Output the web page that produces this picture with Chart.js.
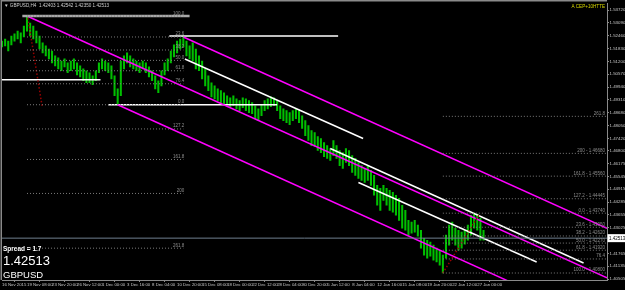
<!DOCTYPE html>
<html><head><meta charset="utf-8">
<script src="https://cdn.jsdelivr.net/npm/chart.js@4/dist/chart.umd.min.js"></script>
<style>html,body{margin:0;padding:0;background:#000;overflow:hidden}</style>
</head><body>
<canvas id="c" width="625" height="290"></canvas>
<script>
// ---- DATA ----
const symbolTitle = 'GBPUSD,H4  1.42403 1.42542 1.42350 1.42513';
const indicatorText = 'A CEP+10HTTE';
const lastPrice = 1.42513;
const spreadText = 'Spread = 1.7';
const symbolName = 'GBPUSD';

// sampled H4 bars (one sample per two H4 bars): lows / highs
const barLows = [1.5191,1.5196,1.5171,1.5201,1.5220,1.5230,1.5211,1.5240,1.5269,1.5245,
1.5230,1.5211,1.5181,1.5162,1.5147,1.5132,1.5113,1.5098,1.5083,1.5074,
1.5093,1.5064,1.5074,1.5083,1.5054,1.5044,1.5025,1.5015,1.5015,1.5005,
1.5025,1.5064,1.5083,1.5074,1.5064,1.5034,1.4951,1.4907,1.4951,1.5083,
1.5113,1.5093,1.5083,1.5074,1.5064,1.5083,1.5064,1.5044,1.5025,1.4985,
1.4966,1.5000,1.5054,1.5074,1.5113,1.5142,1.5162,1.5181,1.5191,1.5147,
1.5132,1.5122,1.5083,1.5074,1.5034,1.5000,1.4976,1.4946,1.4936,1.4927,
1.4917,1.4912,1.4907,1.4897,1.4902,1.4887,1.4878,1.4892,1.4878,1.4868,
1.4863,1.4838,1.4829,1.4853,1.4878,1.4887,1.4897,1.4902,1.4878,1.4838,
1.4829,1.4819,1.4809,1.4829,1.4838,1.4819,1.4790,1.4755,1.4731,1.4706,
1.4702,1.4682,1.4672,1.4652,1.4643,1.4633,1.4657,1.4643,1.4608,1.4594,
1.4623,1.4608,1.4574,1.4560,1.4545,1.4535,1.4525,1.4535,1.4511,1.4462,
1.4413,1.4388,1.4437,1.4413,1.4388,1.4379,1.4364,1.4339,1.4300,1.4290,
1.4266,1.4276,1.4281,1.4261,1.4202,1.4168,1.4153,1.4163,1.4143,1.4134,
1.4119,1.4080,1.4153,1.4217,1.4241,1.4217,1.4192,1.4202,1.4222,1.4241,
1.4266,1.4300,1.4290,1.4241,1.4241];
const barHighs = [1.5220,1.5230,1.5220,1.5245,1.5255,1.5269,1.5260,1.5294,1.5343,1.5308,
1.5294,1.5269,1.5245,1.5211,1.5196,1.5181,1.5171,1.5147,1.5137,1.5122,
1.5132,1.5113,1.5122,1.5132,1.5113,1.5098,1.5083,1.5074,1.5064,1.5049,
1.5074,1.5113,1.5132,1.5122,1.5113,1.5098,1.5049,1.4985,1.5122,1.5147,
1.5162,1.5147,1.5132,1.5122,1.5113,1.5122,1.5113,1.5093,1.5074,1.5049,
1.5025,1.5074,1.5113,1.5132,1.5171,1.5201,1.5220,1.5230,1.5245,1.5220,
1.5196,1.5211,1.5181,1.5147,1.5122,1.5083,1.5049,1.5015,1.5000,1.4985,
1.4976,1.4966,1.4951,1.4941,1.4951,1.4936,1.4927,1.4941,1.4936,1.4927,
1.4917,1.4902,1.4887,1.4907,1.4927,1.4936,1.4946,1.4941,1.4927,1.4902,
1.4887,1.4878,1.4868,1.4878,1.4887,1.4878,1.4853,1.4829,1.4804,1.4780,
1.4770,1.4750,1.4741,1.4721,1.4706,1.4692,1.4731,1.4706,1.4682,1.4672,
1.4692,1.4682,1.4657,1.4643,1.4623,1.4608,1.4594,1.4608,1.4584,1.4560,
1.4511,1.4496,1.4511,1.4496,1.4486,1.4476,1.4462,1.4447,1.4413,1.4388,
1.4339,1.4330,1.4339,1.4315,1.4290,1.4251,1.4241,1.4232,1.4217,1.4202,
1.4192,1.4168,1.4266,1.4315,1.4330,1.4300,1.4290,1.4281,1.4290,1.4315,
1.4364,1.4374,1.4369,1.4349,1.4290];

// time axis (H4 bar index, label)
const timeTickIndex = [0,16,32,48,64,80,96,112,128,144,160,176,192,208,224,240,256,272,288,304];
const timeLabels = ['16 Nov 2015','19 Nov 08:00','23 Nov 20:00','26 Nov 12:00','1 Dec 00:00','3 Dec 16:00',
'8 Dec 04:00','10 Dec 20:00','15 Dec 08:00','18 Dec 00:00','22 Dec 12:00','28 Dec 04:00','30 Dec 20:00',
'5 Jan 12:00','8 Jan 04:00','12 Jan 16:00','15 Jan 08:00','19 Jan 20:00','22 Jan 12:00','27 Jan 00:00'];

// price axis
const priceTicks = [1.53720,1.53090,1.52460,1.51830,1.51200,1.50570,1.49940,1.49310,1.48680,1.48050,1.47420,
1.46800,1.46175,1.45545,1.44915,1.44285,1.43655,1.43025,1.41765,1.41135,1.40505];
const priceTickLabels = ['1.53720','1.53090','1.52460','1.51830','1.51200','1.50570','1.49940','1.49310','1.48680','1.48050','1.47420',
'1.46800','1.46175','1.45545','1.44915','1.44285','1.43655','1.43025','1.41765','1.41135','1.40505'];

// drawn objects: [barIndex, price] endpoints
const chanUpper = [[116,1.5240],[387,1.4300]];
const chanMid   = [[16,1.5343],[387,1.4056]];
const chanLower = [[74,1.4907],[330,1.4019]];
const hLine1 = [[0,1.5030],[63,1.5030]];
const hLine2 = [[68,1.4907],[176,1.4907]];
const hLine3 = [[107,1.5245],[215,1.5245]];
const grayTop = [[13,1.5343],[120,1.5343]];
const trend1 = [[117,1.5132],[231,1.4741]];
const trend2 = [[210,1.4692],[372,1.4129]];
const trend3 = [[228,1.4525],[342,1.4134]];
const fibDiag1 = [[16.6,1.5333],[25.6,1.4902]];
const fibDiag2 = [[282,1.4080],[305,1.4364]];

const fibLeftRange = [16,116];
const fibLeftPrices = [1.5343,1.5240,1.5176,1.5125,1.5074,1.5010,1.4907,1.4788,1.4638,1.4471,1.4202];
const fibLeftLabels = ['100.0','23.6','38.2','50.0','61.8','76.4','0.0','127.2','161.8','200','261.8'];
const fibRightRange = [282,387];
const fibRightPrices = [1.4850,1.4668,1.4556,1.4445,1.4374,1.4305,1.4262,1.4227,1.4192,1.4149,1.4080];
const fibRightLabels = ['261.8','200 - 1.46680','161.8 - 1.45560','127.2 - 1.44445','0.0 - 1.43740','23.6 - 1.43050',
'38.2 - 1.42620','50.0 - 1.42270','61.8 - 1.41920','76.4','100.0 - 1.40800'];

// ---- CHART ----
const FONT = 'Liberation Sans';
function seg(pts, color, width, dash){
  return {type:'line', data: pts.map(p=>({x:p[0], y:p[1]})), borderColor:color, borderWidth:width,
    borderDash:dash||[], pointRadius:0, fill:false, tension:0, order:1};
}
const datasets = [];
datasets.push({type:'bar', data: barHighs.map((h,j)=>({x:j*2, y:[barLows[j], h]})),
  backgroundColor:'#00c000', borderWidth:0, barThickness:1.4, order:10});
fibLeftPrices.forEach(p=>datasets.push(seg([[fibLeftRange[0],p],[fibLeftRange[1],p]],'#7a7a7a',1,[1,2])));
fibRightPrices.forEach(p=>datasets.push(seg([[fibRightRange[0],p],[fibRightRange[1],p]],'#7a7a7a',1,[1,2])));
datasets.push(seg([[0,lastPrice],[387,lastPrice]],'#6f7f8f',1));
datasets.push(seg(grayTop,'#a8a8a8',2.5));
datasets.push(seg(fibDiag1,'#9a0000',1.5,[1.5,2]));
datasets.push(seg(fibDiag2,'#9a0000',1.5,[1.5,2]));
[chanUpper,chanMid,chanLower].forEach(s=>datasets.push(seg(s,'#ff00ff',1.5)));
[hLine1,hLine2,hLine3,trend1,trend2,trend3].forEach(s=>datasets.push(seg(s,'#ffffff',1.5)));

const overlay = {
  id:'overlay',
  beforeDraw(chart){
    const c = chart.ctx; c.save(); c.fillStyle='#000'; c.fillRect(0,0,chart.width,chart.height); c.restore();
  },
  afterDatasetsDraw(chart){
    const c = chart.ctx, xs = chart.scales.x, ys = chart.scales.y, a = chart.chartArea;
    c.save();
    // fib labels
    c.font = '4.5px "'+FONT+'"'; c.fillStyle = '#8c8c8c'; c.textBaseline='bottom'; c.textAlign='right';
    fibLeftPrices.forEach((p,i)=>c.fillText(fibLeftLabels[i], xs.getPixelForValue(fibLeftRange[1])+1, ys.getPixelForValue(p)-0.5));
    fibRightPrices.forEach((p,i)=>c.fillText(fibRightLabels[i], xs.getPixelForValue(fibRightRange[1])-2, ys.getPixelForValue(p)-0.5));
    // frame
    c.strokeStyle='#8a8a8a'; c.lineWidth=1.5;
    c.beginPath(); c.moveTo(a.left-0.5,0.75); c.lineTo(a.right,0.75); c.stroke();
    c.beginPath(); c.moveTo(a.left-0.75,0); c.lineTo(a.left-0.75,a.bottom); c.stroke();
    // header
    c.textAlign='left'; c.textBaseline='middle';
    c.fillStyle='#cfcfcf'; c.font='4.6px "'+FONT+'"';
    c.fillText('\u25BC '+symbolTitle, a.left+2, 6);
    c.fillStyle='#d8d800'; c.textAlign='right';
    c.fillText(indicatorText, a.right-2, 7);
    // bottom-left info
    c.textAlign='left'; c.fillStyle='#ffffff';
    c.font='bold 6.5px "'+FONT+'"'; c.fillText(spreadText, a.left+1, 249.5);
    c.font='13px "'+FONT+'"'; c.fillText(lastPrice.toFixed(5), a.left+1, 261);
    c.font='9.5px "'+FONT+'"'; c.fillText(symbolName, a.left+1, 275.5);
    // last price box
    const yp = ys.getPixelForValue(lastPrice);
    c.fillStyle='#ffffff'; c.fillRect(a.right+0.5, yp-4, chart.width-a.right, 8);
    c.fillStyle='#000'; c.font='4.5px "'+FONT+'"'; c.textAlign='left';
    c.fillText(lastPrice.toFixed(5), a.right+2, yp+0.3);
    c.restore();
  }
};

new Chart(document.getElementById('c'), {
  type:'bar',
  data:{datasets},
  plugins:[overlay],
  options:{
    responsive:false, animation:false, devicePixelRatio:1,
    layout:{padding:{left:2,top:2,right:0,bottom:0}},
    plugins:{legend:{display:false}, tooltip:{enabled:false}},
    scales:{
      x:{type:'linear', position:'bottom', min:0, max:387, offset:false,
        afterBuildTicks:(s)=>{ s.ticks = timeTickIndex.map(v=>({value:v})); },
        afterFit:(s)=>{ s.height = 10; },
        grid:{display:true, drawOnChartArea:false, drawTicks:true, tickLength:2, color:'#8a8a8a'},
        border:{display:true, color:'#8a8a8a', width:1},
        ticks:{autoSkip:false, maxRotation:0, minRotation:0, align:'start', padding:0.5, color:'#c8c8c8',
          font:{family:FONT, size:4.3},
          callback:(v,i)=>timeLabels[i]}
      },
      y:{type:'linear', position:'right', min:1.40456, max:1.54063,
        afterBuildTicks:(s)=>{ s.ticks = priceTicks.map(v=>({value:v})); },
        afterFit:(s)=>{ s.width = 18; },
        grid:{display:true, drawOnChartArea:false, drawTicks:true, tickLength:2, color:'#8a8a8a'},
        border:{display:true, color:'#8a8a8a', width:1},
        ticks:{autoSkip:false, padding:0.5, color:'#c8c8c8', font:{family:FONT, size:4.4},
          callback:(v,i)=>priceTickLabels[i]}
      }
    }
  }
});
</script>
</body></html>
